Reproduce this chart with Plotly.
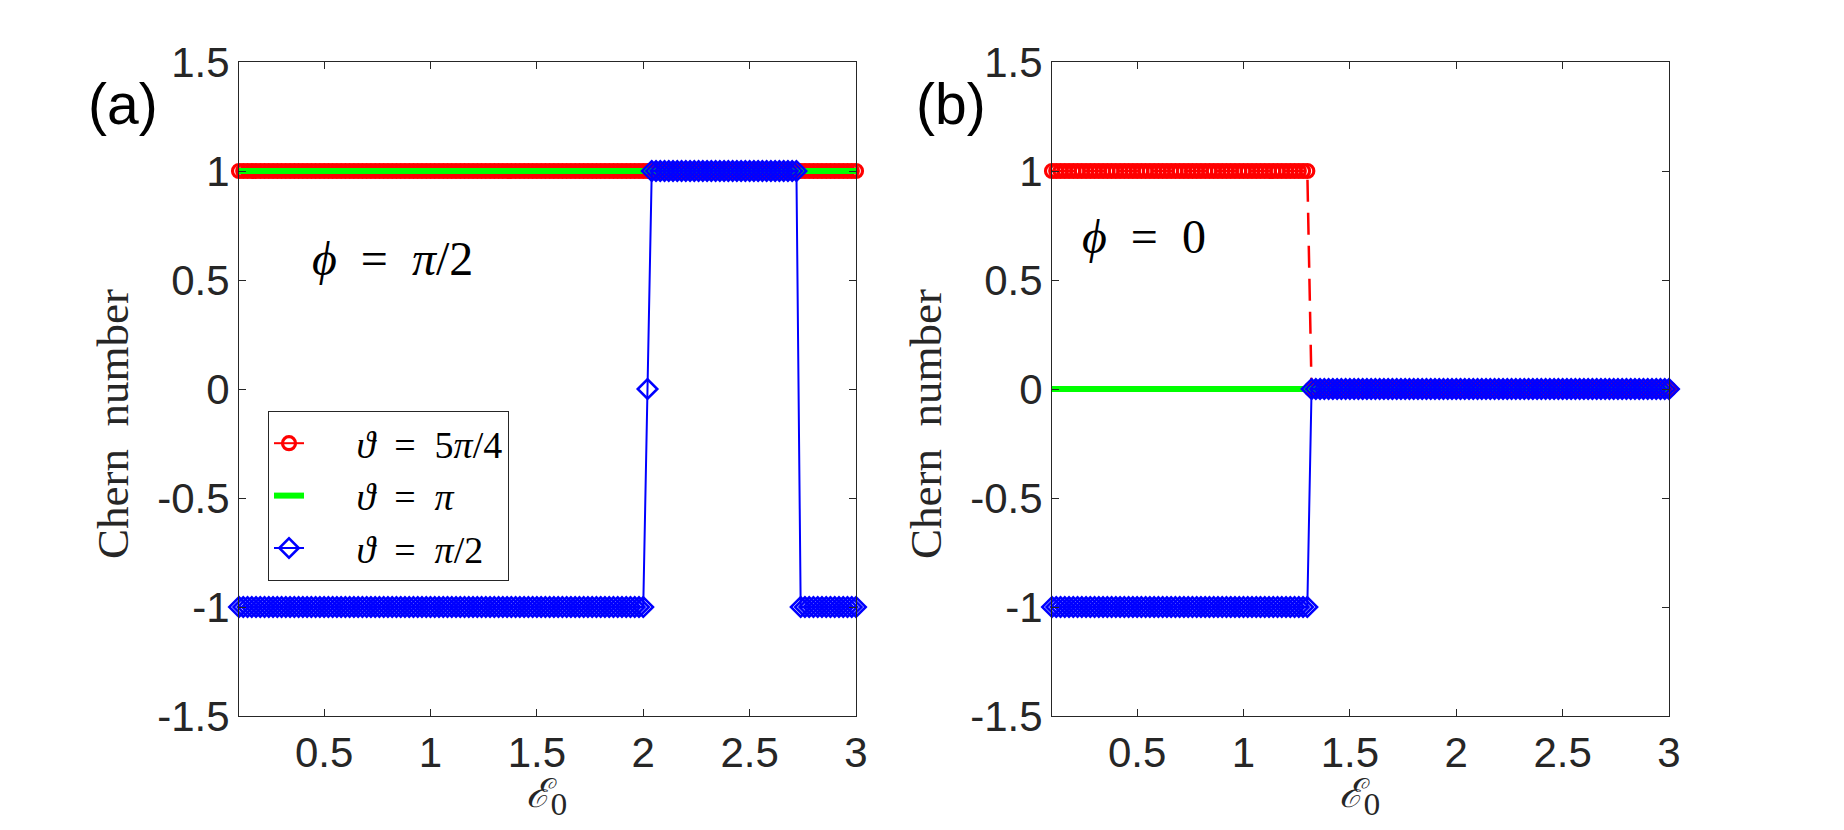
import numpy as np
import plotly.graph_objects as go

# ---------------- data ----------------
# sampling grid of the field amplitude E0 (step read from marker spacing)
E0_start, E0_stop, E0_step = 0.1, 3.0, 0.02
E0 = np.round(np.arange(E0_start, E0_stop + E0_step / 2, E0_step), 2)

# Chern numbers, written as runs (level, number of consecutive samples)
a_red_levels, a_red_counts = [1], [146]            # theta = 5pi/4, phi = pi/2
a_green_levels, a_green_counts = [1], [146]        # theta = pi,    phi = pi/2
a_blue_levels, a_blue_counts = [-1, 0, 1, -1], [96, 1, 35, 14]   # theta = pi/2, phi = pi/2

b_red_levels, b_red_counts = [1, 0], [61, 85]      # phi = 0
b_green_levels, b_green_counts = [0], [146]
b_blue_levels, b_blue_counts = [-1, 0], [61, 85]

EQ = "&nbsp;&nbsp;=&nbsp;&nbsp;"
series_names = ["<i>ϑ</i>" + EQ + "5<i>π</i>/4", "<i>ϑ</i>" + EQ + "<i>π</i>", "<i>ϑ</i>" + EQ + "<i>π</i>/2"]

x_tickvals = [0.5, 1, 1.5, 2, 2.5, 3]
x_ticktext = ["0.5", "1", "1.5", "2", "2.5", "3"]
y_tickvals = [-1.5, -1, -0.5, 0, 0.5, 1, 1.5]
y_ticktext = ["-1.5", "-1", "-0.5", "0", "0.5", "1", "1.5"]


def expand(levels, counts):
    return np.repeat(levels, counts)


RED, GREEN, BLUE = "#FF0000", "#00FF00", "#0000FF"
AX = "#262626"
PAD = "&nbsp;" * 5  # pushes legend text right, like the longer MATLAB samples

red_marker = dict(symbol="circle-open", size=13, color=RED, line=dict(width=3.2))
blue_marker = dict(symbol="diamond-open", size=15, color=BLUE, line=dict(width=2.5))

fig = go.Figure()

# ---- panel (a)
fig.add_trace(go.Scatter(x=E0, y=expand(a_red_levels, a_red_counts), mode="lines+markers",
                         name=PAD + series_names[0],
                         line=dict(color=RED, width=2), marker=red_marker,
                         cliponaxis=False, xaxis="x", yaxis="y"))
fig.add_trace(go.Scatter(x=E0, y=expand(a_green_levels, a_green_counts), mode="lines",
                         name=PAD + series_names[1],
                         line=dict(color=GREEN, width=6),
                         cliponaxis=False, xaxis="x", yaxis="y"))
fig.add_trace(go.Scatter(x=E0, y=expand(a_blue_levels, a_blue_counts), mode="lines+markers",
                         name=PAD + series_names[2],
                         line=dict(color=BLUE, width=2), marker=blue_marker,
                         cliponaxis=False, xaxis="x", yaxis="y"))

# ---- panel (b)
fig.add_trace(go.Scatter(x=E0, y=expand(b_red_levels, b_red_counts), mode="lines+markers",
                         name=series_names[0], showlegend=False,
                         line=dict(color=RED, width=2.5, dash="22px,11px"), marker=red_marker,
                         cliponaxis=False, xaxis="x2", yaxis="y2"))
fig.add_trace(go.Scatter(x=E0, y=expand(b_green_levels, b_green_counts), mode="lines",
                         name=series_names[1], showlegend=False,
                         line=dict(color=GREEN, width=6),
                         cliponaxis=False, xaxis="x2", yaxis="y2"))
fig.add_trace(go.Scatter(x=E0, y=expand(b_blue_levels, b_blue_counts), mode="lines+markers",
                         name=series_names[2], showlegend=False,
                         line=dict(color=BLUE, width=2), marker=blue_marker,
                         cliponaxis=False, xaxis="x2", yaxis="y2"))

W, H = 1844, 830
xa = [239 / W, 856 / W]
xb = [1052 / W, 1669 / W]
yd = [1 - 716 / H, 1 - 62 / H]

tickfont = dict(family="Liberation Sans, Arial, sans-serif", size=42, color=AX)
common = dict(showline=True, linecolor=AX, linewidth=1, mirror="allticks", ticks="inside",
              ticklen=7, tickcolor=AX, tickwidth=1, showgrid=False, zeroline=False,
              tickfont=tickfont, automargin=False)
common_x = dict(range=[0.1, 3], tickvals=x_tickvals, ticktext=x_ticktext, **common)
common_y = dict(range=[-1.5, 1.5], tickvals=y_tickvals, ticktext=y_ticktext, **common)

fig.update_layout(
    width=W, height=H, margin=dict(l=0, r=0, t=0, b=0, pad=0, autoexpand=False),
    paper_bgcolor="white", plot_bgcolor="white",
    xaxis=dict(domain=xa, anchor="y", **common_x),
    yaxis=dict(domain=yd, anchor="x", **common_y),
    xaxis2=dict(domain=xb, anchor="y2", **common_x),
    yaxis2=dict(domain=yd, anchor="x2", **common_y),
    legend=dict(x=268 / W, y=1 - 411 / H, xanchor="left", yanchor="top",
                bgcolor="white", bordercolor=AX, borderwidth=1,
                font=dict(family="Liberation Serif, serif", size=38, color="black"),
                traceorder="normal", tracegroupgap=0),
    showlegend=True,
)

serif = "Liberation Serif, DejaVu Serif, serif"
ann = []


def add_text(text, x, y, font, angle=0):
    ann.append(dict(text=text, x=x / W, y=1 - y / H, xref="paper", yref="paper",
                    xanchor="center", yanchor="middle", showarrow=False,
                    textangle=angle, font=font))


sans_big = dict(family="Liberation Sans, Arial, sans-serif", size=57, color="black")
add_text("(a)", 123, 104, sans_big)
add_text("(b)", 951, 104, sans_big)
add_text("<i>ϕ</i>" + EQ + "<i>π</i>/2", 392, 258, dict(family=serif, size=48, color="black"))
add_text("<i>ϕ</i>" + EQ + "0", 1144, 236, dict(family=serif, size=48, color="black"))
for xc in (113, 926):
    add_text("Chern  number", xc, 424, dict(family=serif, size=45, color=AX), angle=-90)
for xc in (547, 1360):
    add_text("<i>ℰ</i><sub>0</sub>", xc, 796, dict(family="DejaVu Serif, serif", size=40, color=AX))
fig.update_layout(annotations=ann)

fig.write_html("out.html")
